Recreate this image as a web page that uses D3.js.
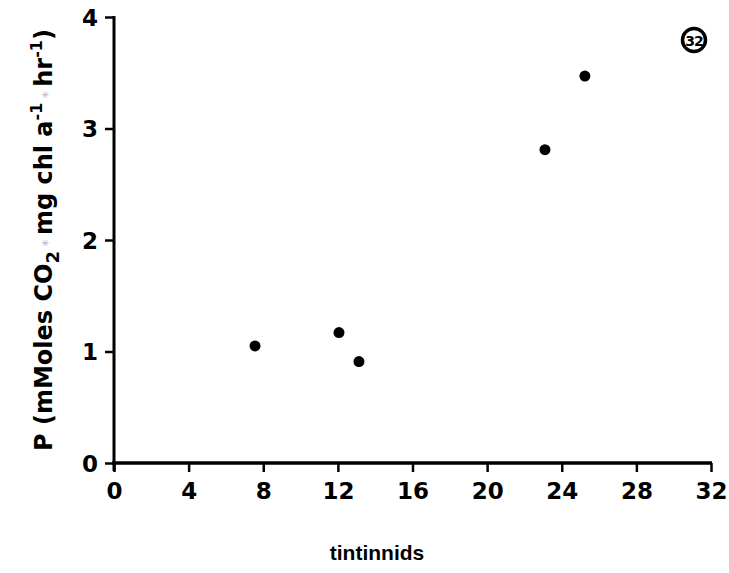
<!DOCTYPE html>
<html>
<head>
<meta charset="utf-8">
<script src="https://cdn.jsdelivr.net/npm/d3@7"></script>
<style>
  html, body { margin: 0; padding: 0; background: #fff; }
  svg text { font-family: "DejaVu Sans", sans-serif; font-weight: bold; fill: #000; }
</style>
</head>
<body>
<svg id="chart" width="729" height="573"></svg>
<script>
// Tintinnid abundance vs. photosynthetic rate
const tintinnids = [7.56, 12.06, 13.13, 23.1, 25.24];
const production = [1.05, 1.17, 0.91, 2.81, 3.47];
const xTicks = [0, 4, 8, 12, 16, 20, 24, 28, 32];
const yTicks = [0, 1, 2, 3, 4];
const panelLabel = "32";

const svg = d3.select("#chart");
const x = d3.scaleLinear().domain([0, 32]).range([114, 711]);
const y = d3.scaleLinear().domain([0, 4]).range([463, 17]);

function styleTicks(g) {
  g.selectAll(".tick line").attr("stroke-width", 2.5);
  g.selectAll(".tick text").style("font-size", "23px");
}

// x axis
const xAxis = d3.axisBottom(x).tickValues(xTicks).tickFormat(d3.format("d"))
  .tickSize(9).tickPadding(11).tickSizeOuter(0);
const gx = svg.append("g").attr("transform", `translate(0,${y(0)})`).call(xAxis);
gx.select(".domain").attr("stroke-width", 3.5).attr("d", `M${x(0) - 2},0H${x(32) + 1}`);
styleTicks(gx);

// y axis
const yAxis = d3.axisLeft(y).tickValues(yTicks).tickFormat(d3.format("d"))
  .tickSize(9).tickPadding(7).tickSizeOuter(0);
const gy = svg.append("g").attr("transform", `translate(${x(0)},0)`).call(yAxis);
gy.select(".domain").attr("stroke-width", 3).attr("d", `M0,${y(4) - 1}V${y(0) + 8}`);
styleTicks(gy);
gy.selectAll(".tick text").attr("dy", "0.36em");

// points
svg.append("g").selectAll("circle")
  .data(tintinnids.map((t, i) => [t, production[i]]))
  .join("circle")
  .attr("cx", d => x(d[0]))
  .attr("cy", d => y(d[1]))
  .attr("r", 5.5)
  .attr("fill", "#000");

// axis titles
svg.append("text")
  .attr("x", 377).attr("y", 560)
  .attr("text-anchor", "middle")
  .style("font-family", "'Liberation Sans', Arial, sans-serif")
  .style("font-size", "21px")
  .text("tintinnids");

const yt = svg.append("text")
  .attr("transform", "translate(52,240) rotate(-90)")
  .attr("text-anchor", "middle")
  .style("font-size", "24px");
yt.append("tspan").text("P (mMoles CO");
yt.append("tspan").style("font-size", "18px").attr("dy", 7).text("2");
yt.append("tspan").attr("dy", -7).style("fill", "#bbb").style("font-size", "14px").style("font-weight", "normal").text(" * ");
yt.append("tspan").text("mg chl a");
yt.append("tspan").style("font-size", "16px").attr("dy", -10).text("-1");
yt.append("tspan").attr("dy", 10).style("fill", "#bbb").style("font-size", "14px").style("font-weight", "normal").text(" * ");
yt.append("tspan").text("hr");
yt.append("tspan").style("font-size", "16px").attr("dy", -10).text("-1");
yt.append("tspan").attr("dy", 10).text(")");

// panel number
svg.append("circle").attr("cx", 694).attr("cy", 40).attr("r", 11.5)
  .attr("fill", "none").attr("stroke", "#000").attr("stroke-width", 3.5);
svg.append("text").attr("x", 694).attr("y", 45.5)
  .attr("text-anchor", "middle").style("font-size", "14px").attr("letter-spacing", -1)
  .text(panelLabel);
</script>
</body>
</html>
